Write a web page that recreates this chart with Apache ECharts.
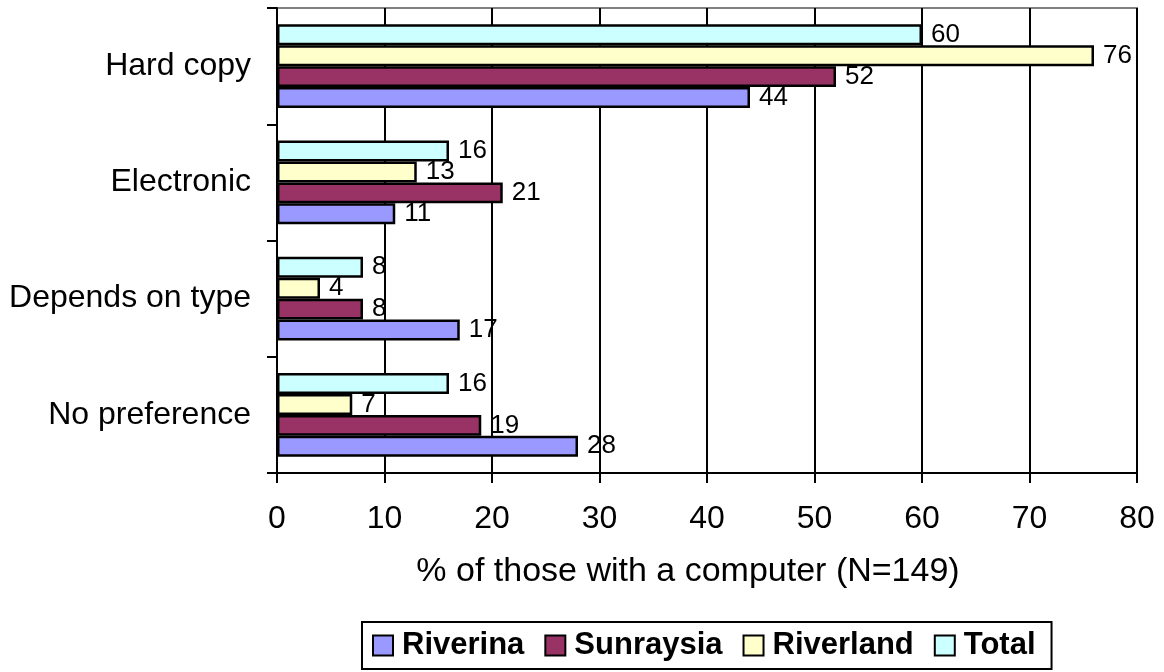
<!DOCTYPE html>
<html>
<head>
<meta charset="utf-8">
<script src="https://cdn.jsdelivr.net/npm/echarts@6/dist/echarts.min.js"></script>
<style>
  html, body { margin: 0; padding: 0; background: #fff; }
  #chart { width: 1164px; height: 672px; }
</style>
</head>
<body>
<div id="chart"></div>
<script>
// Preferred format for receiving information, by region
const categories = ['Hard copy', 'Electronic', 'Depends on type', 'No preference'];
const riverina  = [44, 11, 17, 28];
const sunraysia = [52, 21, 8, 19];
const riverland = [76, 13, 4, 7];
const total     = [60, 16, 8, 16];
const seriesNames = ['Riverina', 'Sunraysia', 'Riverland', 'Total'];
const xTicks = [0, 10, 20, 30, 40, 50, 60, 70, 80];

const FONT = '"Liberation Sans", Arial, sans-serif';
const colors = {
  Riverina: '#9999FF',
  Sunraysia: '#993366',
  Riverland: '#FFFFCC',
  Total: '#CCFFFF'
};
const valuesByName = {
  Riverina: riverina,
  Sunraysia: sunraysia,
  Riverland: riverland,
  Total: total
};

function makeSeries(name) {
  return {
    name: name,
    type: 'bar',
    data: valuesByName[name],
    barGap: '0%',
    barCategoryGap: '28%',
    itemStyle: { color: colors[name], borderColor: '#000', borderWidth: 2.5 },
    label: {
      show: true,
      position: 'right',
      distance: 9,
      color: '#000',
      fontFamily: FONT,
      fontSize: 26
    },
    emphasis: { disabled: true },
    animation: false
  };
}

const chart = echarts.init(document.getElementById('chart'), null, { renderer: 'canvas' });
chart.setOption({
  backgroundColor: '#fff',
  animation: false,
  grid: {
    left: 277, right: 27, top: 8, bottom: 199,
    show: true,
    borderColor: '#808080',
    borderWidth: 2,
    backgroundColor: 'transparent'
  },
  legend: {
    data: seriesNames,
    left: 362,
    bottom: 3,
    orient: 'horizontal',
    icon: 'rect',
    itemWidth: 20,
    itemHeight: 20,
    itemGap: 20,
    padding: [8, 16, 8, 10],
    borderColor: '#000',
    borderWidth: 2,
    backgroundColor: '#fff',
    itemStyle: { borderColor: '#000', borderWidth: 2 },
    textStyle: {
      fontFamily: FONT,
      fontSize: 31,
      fontWeight: 'bold',
      color: '#000',
      padding: [0, 0, 0, 4]
    },
    selectedMode: false
  },
  xAxis: {
    type: 'value',
    min: xTicks[0],
    max: xTicks[xTicks.length - 1],
    interval: 10,
    name: '% of those with a computer (N=149)',
    nameLocation: 'middle',
    nameGap: 82,
    nameTextStyle: { fontFamily: FONT, fontSize: 34, color: '#000', padding: [0, 38, 0, 0] },
    axisLine: { show: true, lineStyle: { color: '#000', width: 2 } },
    axisTick: { show: true, inside: false, length: 10, lineStyle: { color: '#000', width: 2 } },
    axisLabel: { fontFamily: FONT, fontSize: 32, color: '#000', margin: 30 },
    splitLine: { show: true, lineStyle: { color: '#000', width: 2 } }
  },
  yAxis: {
    type: 'category',
    data: categories,
    inverse: true,
    axisLine: { show: true, lineStyle: { color: '#000', width: 2 } },
    axisTick: { show: true, inside: false, length: 10, alignWithLabel: false, lineStyle: { color: '#000', width: 2 } },
    axisLabel: { fontFamily: FONT, fontSize: 32, color: '#000', margin: 26 },
    splitLine: { show: false }
  },
  // top-to-bottom order inside each group: Total, Riverland, Sunraysia, Riverina
  series: seriesNames.slice().reverse().map(makeSeries)
});
</script>
</body>
</html>
